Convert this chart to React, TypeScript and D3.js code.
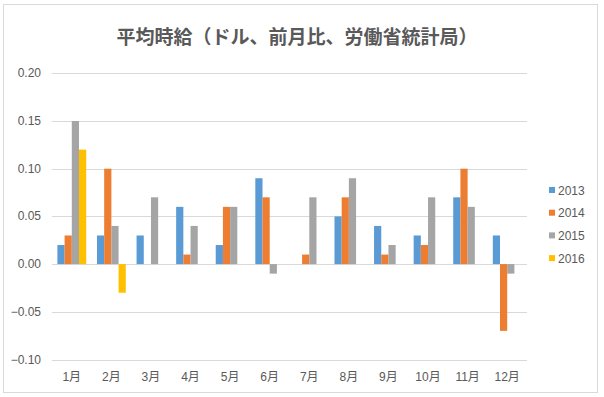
import React from "react";
import * as d3 from "d3";

// monthly categories and the four yearly series (null = no bar)
const months = ["1月", "2月", "3月", "4月", "5月", "6月", "7月", "8月", "9月", "10月", "11月", "12月"];
const years = ["2013", "2014", "2015", "2016"];
const v2013 = [0.02, 0.03, 0.03, 0.06, 0.02, 0.09, null, 0.05, 0.04, 0.03, 0.07, 0.03];
const v2014 = [0.03, 0.1, null, 0.01, 0.06, 0.07, 0.01, 0.07, 0.01, 0.02, 0.1, -0.07];
const v2015 = [0.15, 0.04, 0.07, 0.04, 0.06, -0.01, 0.07, 0.09, 0.02, 0.07, 0.06, -0.01];
const v2016 = [0.12, -0.03, null, null, null, null, null, null, null, null, null, null];
const yTicks = [-0.1, -0.05, 0, 0.05, 0.1, 0.15, 0.2];
const colors = ["#5B9BD5", "#ED7D31", "#A5A5A5", "#FFC000"];

const W = 604;
const H = 397;

function App() {
  const series = [v2013, v2014, v2015, v2016];

  // plot area
  const left = 52;
  const right = 527;
  const top = 73.3;
  const bottom = 359.5;

  const x = d3.scaleBand<string>().domain(months).range([left, right]).paddingInner(0.2727).paddingOuter(0.1364);
  const xs = d3.scaleBand<string>().domain(years).range([0, x.bandwidth()]);
  const y = d3.scaleLinear().domain([-0.1, 0.2]).range([bottom, top]);

  const txt = "#595959";
  const grid = "#D9D9D9";

  return (
    <svg width={W} height={H} style={{ position: "absolute", left: 0, top: 0, background: "#fff" }}>
      <rect x={3.5} y={4.5} width={594} height={388} fill="#fff" stroke={grid} />
      <text x={297} y={43.5} textAnchor="middle" fontFamily="'Noto Sans CJK JP', sans-serif" fontWeight="bold" fontSize={19} fill={txt}>
        平均時給（ドル、前月比、労働省統計局）
      </text>
      {yTicks.map((t) => (
        <g key={t}>
          <line x1={left} x2={right} y1={Math.round(y(t)) + 0.5} y2={Math.round(y(t)) + 0.5} stroke={grid} />
          <text x={41} y={y(t) + 4} textAnchor="end" fontFamily="'Liberation Sans', Arial, sans-serif" fontSize={12} fill={txt}>
            {d3.format(".2f")(t)}
          </text>
        </g>
      ))}
      {series.map((vals, si) => (
        <g key={years[si]} fill={colors[si]}>
          {vals.map((v, i) =>
            v === null ? null : (
              <rect
                key={i}
                x={(x(months[i]) ?? 0) + (xs(years[si]) ?? 0)}
                y={y(Math.max(0, v))}
                width={xs.bandwidth()}
                height={Math.abs(y(v) - y(0))}
              />
            )
          )}
        </g>
      ))}
      {months.map((m) => (
        <text key={m} x={(x(m) ?? 0) + x.bandwidth() / 2} y={381} textAnchor="middle" fontFamily="'Liberation Sans', 'Noto Sans CJK JP', sans-serif" fontSize={12} fill={txt}>
          {m}
        </text>
      ))}
      {years.map((yr, i) => (
        <g key={yr} transform={`translate(549,${190 + i * 22.7})`}>
          <rect x={0} y={-3} width={6} height={6} fill={colors[i]} />
          <text x={9} y={4.5} fontFamily="'Liberation Sans', Arial, sans-serif" fontSize={12} fill={txt}>
            {yr}
          </text>
        </g>
      ))}
    </svg>
  );
}

export default App;
